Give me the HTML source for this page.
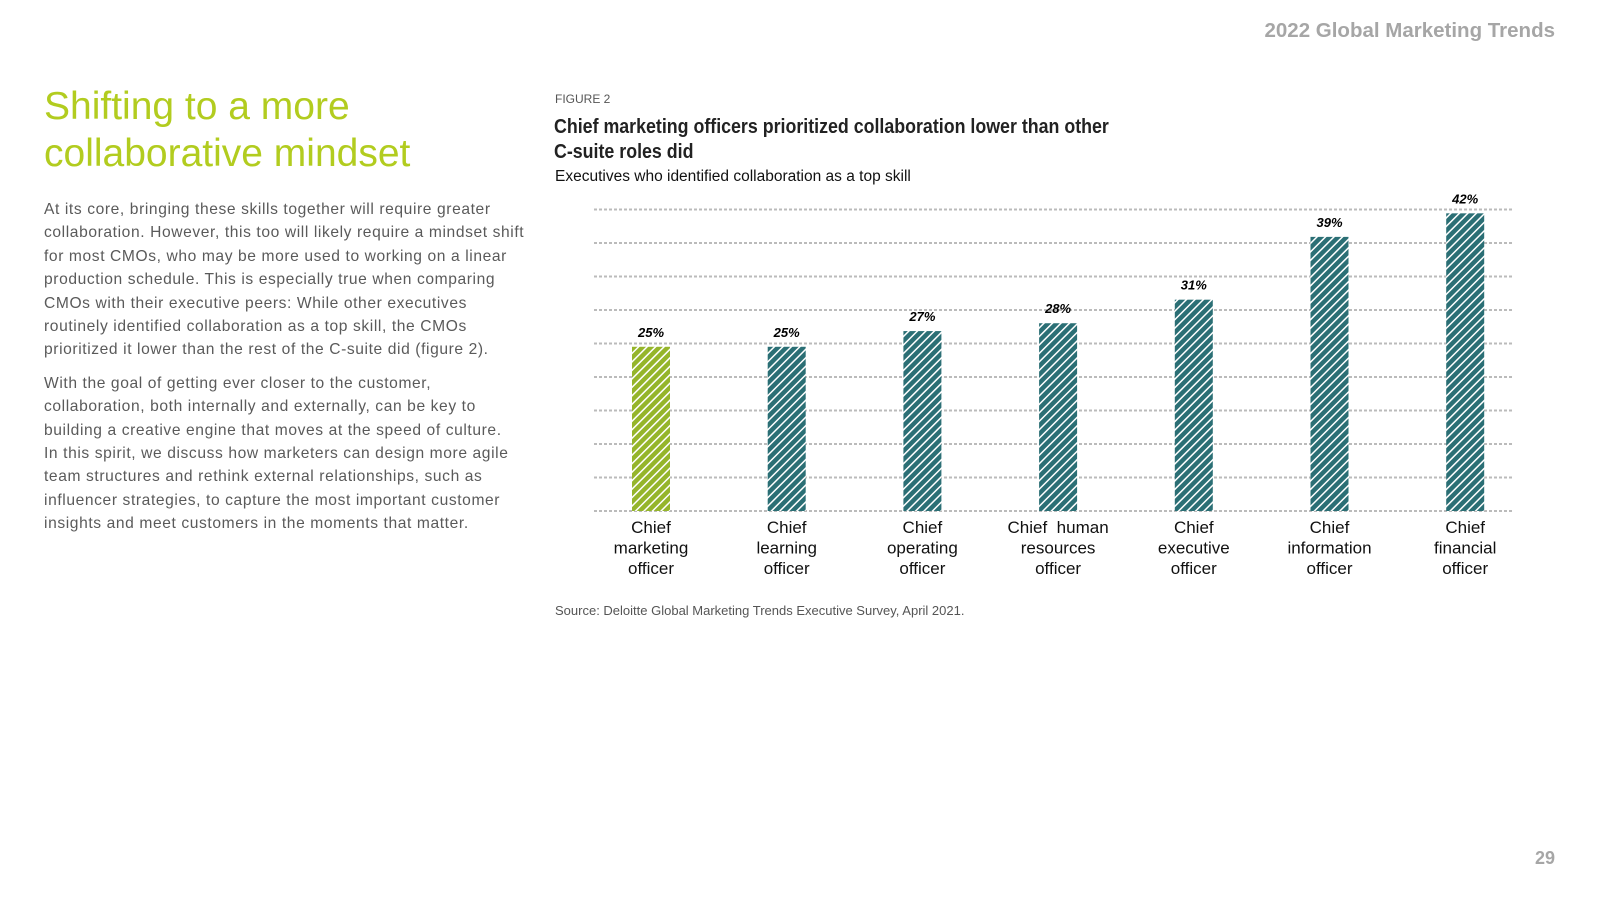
<!DOCTYPE html>
<html><head><meta charset="utf-8"><style>
body{margin:0;width:1600px;height:900px;background:#fff;font-family:"Liberation Sans",sans-serif;position:relative;overflow:hidden}
.a{position:absolute}
.bt div{white-space:nowrap}
</style></head><body>
<div class="a" style="right:45px;top:19px;font-size:20.5px;font-weight:bold;color:#a6a6a6">2022 Global Marketing Trends</div>
<div class="a" style="left:44px;top:83px;font-size:39px;line-height:47px;color:#b2cc1f">Shifting to a more<br>collaborative mindset</div>
<div class="a bt" style="left:44px;top:198px;font-size:15.6px;line-height:23.4px;color:#5a5a5a;letter-spacing:0.6px">
<div>At its core, bringing these skills together will require greater</div>
<div>collaboration. However, this too will likely require a mindset shift</div>
<div>for most CMOs, who may be more used to working on a linear</div>
<div>production schedule. This is especially true when comparing</div>
<div>CMOs with their executive peers: While other executives</div>
<div>routinely identified collaboration as a top skill, the CMOs</div>
<div>prioritized it lower than the rest of the C-suite did (figure 2).</div>
<div style="height:10px"></div>
<div>With the goal of getting ever closer to the customer,</div>
<div>collaboration, both internally and externally, can be key to</div>
<div>building a creative engine that moves at the speed of culture.</div>
<div>In this spirit, we discuss how marketers can design more agile</div>
<div>team structures and rethink external relationships, such as</div>
<div>influencer strategies, to capture the most important customer</div>
<div>insights and meet customers in the moments that matter.</div>
</div>
<div class="a" style="left:555px;top:92px;font-size:12px;color:#555">FIGURE 2</div>
<div class="a" style="left:554px;top:115px;font-size:20px;line-height:25px;font-weight:bold;color:#222;transform:scaleX(0.89);transform-origin:left;white-space:nowrap">Chief marketing officers prioritized collaboration lower than other<br>C-suite roles did</div>
<div class="a" style="left:555px;top:168px;font-size:15.5px;color:#111">Executives who identified collaboration as a top skill</div>
<div class="a" style="left:555px;top:603px;font-size:13px;color:#555">Source: Deloitte Global Marketing Trends Executive Survey, April 2021.</div>
<div class="a" style="right:45px;top:848px;font-size:18px;font-weight:bold;color:#a6a6a6">29</div>
<svg class="a" id="chart" style="left:0;top:0" width="1600" height="900">
<defs>
<pattern id="hg" width="6" height="6" patternUnits="userSpaceOnUse" patternTransform="rotate(45)"><rect width="6" height="6" fill="#95b52a"/><rect width="1.5" height="6" fill="#fff"/></pattern>
<pattern id="ht" width="6" height="6" patternUnits="userSpaceOnUse" patternTransform="rotate(45)"><rect width="6" height="6" fill="#2b6f75"/><rect width="1.5" height="6" fill="#fff"/></pattern>
</defs>
</svg>
<script>
const categories=[["Chief","marketing","officer"],["Chief","learning","officer"],["Chief","operating","officer"],["Chief  human","resources","officer"],["Chief","executive","officer"],["Chief","information","officer"],["Chief","financial","officer"]];
const values=[25,25,27,28,31,39,42];
const labels=["25%","25%","27%","28%","31%","39%","42%"];
const svg=document.getElementById('chart');const NS='http://www.w3.org/2000/svg';
const base=511,bw=38;
function y(v){return base-(v-4.08)*7.85;}
function xc(i){return 651+135.7*i;}
for(let g=0;g<10;g++){const l=document.createElementNS(NS,'line');


const gy=base-g*33.5;l.setAttribute('x1',594);l.setAttribute('x2',1512);l.setAttribute('y1',gy);l.setAttribute('y2',gy);l.setAttribute('stroke','#bbb');l.setAttribute('stroke-width','2');l.setAttribute('stroke-dasharray','3 2');svg.appendChild(l);}
values.forEach((v,i)=>{const r=document.createElementNS(NS,'rect');


r.setAttribute('x',xc(i)-bw/2);r.setAttribute('y',y(v));r.setAttribute('width',bw);r.setAttribute('height',base-y(v));r.setAttribute('fill',i==0?'url(#hg)':'url(#ht)');svg.appendChild(r);
const t=document.createElementNS(NS,'text');


t.setAttribute('x',xc(i));t.setAttribute('y',y(v)-10);t.setAttribute('text-anchor','middle');t.setAttribute('font-size','13');t.setAttribute('font-weight','bold');t.setAttribute('font-style','italic');t.textContent=labels[i];svg.appendChild(t);
categories[i].forEach((s,k)=>{const c=document.createElementNS(NS,'text');


c.setAttribute('x',xc(i));c.setAttribute('y',533+k*20.5);c.setAttribute('text-anchor','middle');c.setAttribute('font-size','17');c.setAttribute('fill','#111');c.style.whiteSpace='pre';c.textContent=s;svg.appendChild(c);});});
</script>
</body></html>
